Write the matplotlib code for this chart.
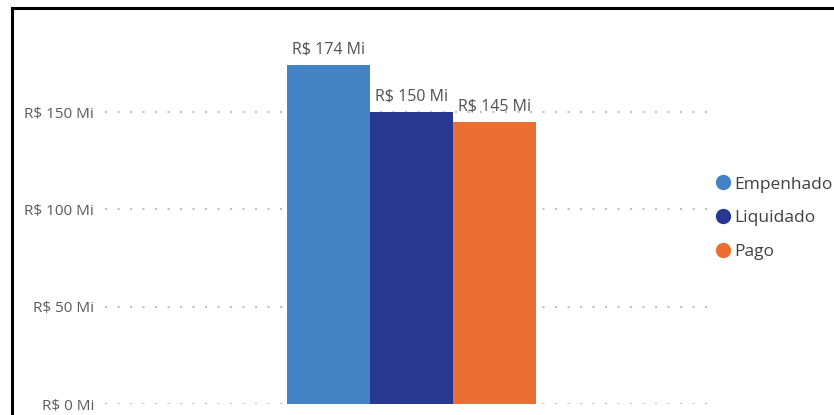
import matplotlib
matplotlib.use("Agg")
import matplotlib.pyplot as plt
from matplotlib.lines import Line2D

plt.rcParams['font.family'] = ['Open Sans', 'DejaVu Sans']

series = ["Empenhado", "Liquidado", "Pago"]
values = [174, 150, 145]  # R$ milhões
colors = ["#4282C5", "#283891", "#EB6E32"]
yticks = [0, 50, 100, 150]

fig = plt.figure(figsize=(8.34, 4.15), dpi=100)
W, H = 834, 415
ax = fig.add_axes([105 / W, (H - 404) / H, (712 - 105) / W, (404 - 24.5) / H])

xs = [-1, 0, 1]
ax.bar(xs, values, width=1.0, color=colors, zorder=3)
for x, v in zip(xs, values):
    ax.text(x, v + 4, "R$ {} Mi".format(v), ha="center", va="bottom",
            fontsize=11.5, color="#505050", zorder=4)

ax.set_xlim(-3.69, 3.62)
ax.set_ylim(0, 195)
ax.set_yticks(yticks)
ax.set_yticklabels(["R$ {} Mi".format(t) for t in yticks], fontsize=11, color="#5a5a5a")
ax.set_xticks([])
ax.tick_params(axis="y", length=0, pad=8)
for y in yticks:
    ax.axhline(y, color="#c0c0c0", lw=1.5, linestyle=(0, (1, 5)), zorder=1)
for s in ax.spines.values():
    s.set_visible(False)

handles = [Line2D([], [], marker="o", linestyle="", markersize=10,
                  markerfacecolor=c, markeredgecolor=c) for c in colors]
fig.legend(handles, series, loc="center left", bbox_to_anchor=(706 / W, 1 - 218 / H),
           frameon=False, fontsize=12.5, handletextpad=0.0, labelspacing=1.0,
           borderaxespad=0, handlelength=1.2, labelcolor="#404040")

# outer frame (top and left edges)
fig.add_artist(Line2D([11.5 / W, 1], [1 - 8.5 / H, 1 - 8.5 / H], color="black", lw=2.2,
                      transform=fig.transFigure))
fig.add_artist(Line2D([11.5 / W, 11.5 / W], [0, 1 - 8.5 / H], color="black", lw=2.2,
                      transform=fig.transFigure))

fig.savefig("out.png", dpi=100, facecolor="white")
